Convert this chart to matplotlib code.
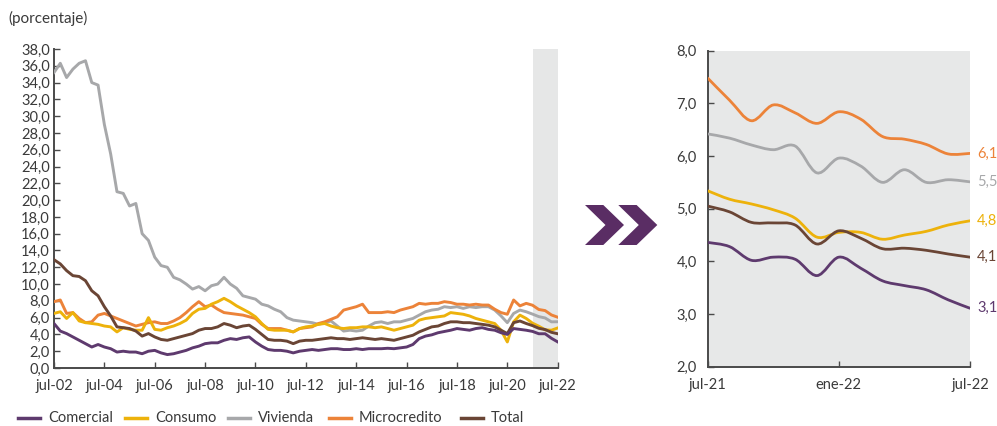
import matplotlib
matplotlib.use("Agg")
import matplotlib.pyplot as plt
from matplotlib.path import Path
from matplotlib.patches import PathPatch, Polygon
from matplotlib.lines import Line2D
import numpy as np

plt.rcParams['font.family'] = ['Lato', 'DejaVu Sans']

# ---------------- data ----------------
# Left chart: quarterly observations, jul-02 ... jul-22 (81 points)
series_names = ["Comercial", "Consumo", "Vivienda", "Microcredito", "Total"]
colors = {"Comercial": "#5E3A6E", "Consumo": "#EDB20B", "Vivienda": "#A7A8AA",
          "Microcredito": "#EC8339", "Total": "#6A4535"}

comercial = [5.3, 4.4, 4.1, 3.7, 3.3, 2.9, 2.5, 2.8, 2.5, 2.3, 1.9, 2.0, 1.9, 1.9, 1.7, 2.0,
             2.1, 1.8, 1.6, 1.7, 1.9, 2.1, 2.4, 2.6, 2.9, 3.0, 3.0, 3.3, 3.5, 3.4, 3.6, 3.7,
             3.1, 2.6, 2.2, 2.1, 2.1, 2.0, 1.8, 2.0, 2.1, 2.2, 2.1, 2.2, 2.3, 2.3, 2.2, 2.2,
             2.3, 2.2, 2.3, 2.3, 2.3, 2.35, 2.3, 2.4, 2.5, 2.8, 3.5, 3.8, 3.95, 4.2, 4.35, 4.5,
             4.7, 4.6, 4.5, 4.7, 4.8, 4.6, 4.5, 4.2, 4.0, 4.7, 4.6, 4.5, 4.36, 4.08, 4.08, 3.54, 3.11]
consumo = [6.5, 6.7, 5.9, 6.6, 5.6, 5.4, 5.3, 5.2, 5.0, 4.9, 4.3, 4.8, 4.6, 4.5, 4.5, 6.0,
           4.6, 4.5, 4.8, 5.0, 5.3, 5.7, 6.5, 7.0, 7.1, 7.6, 7.9, 8.3, 7.9, 7.4, 7.0, 6.6,
           6.1, 5.3, 4.6, 4.5, 4.5, 4.5, 4.3, 4.7, 4.9, 5.0, 5.2, 5.3, 5.0, 4.8, 4.7, 4.8,
           4.8, 4.9, 4.9, 4.8, 4.9, 4.7, 4.5, 4.7, 4.9, 5.1, 5.7, 5.9, 6.0, 6.1, 6.2, 6.6,
           6.5, 6.4, 6.2, 5.9, 5.7, 5.5, 5.3, 4.5, 3.1, 5.5, 6.3, 5.9, 5.34, 4.98, 4.55, 4.50, 4.77]
vivienda = [35.2, 36.3, 34.6, 35.6, 36.3, 36.6, 34.0, 33.7, 29.0, 25.5, 21.0, 20.8, 19.3, 19.6, 16.0, 15.2,
            13.2, 12.2, 12.0, 10.8, 10.5, 10.0, 9.4, 9.7, 9.2, 9.8, 10.0, 10.8, 10.0, 9.5, 8.6, 8.4,
            8.2, 7.6, 7.4, 7.0, 6.7, 6.0, 5.7, 5.6, 5.5, 5.4, 5.2, 5.4, 5.6, 5.0, 4.4, 4.5,
            4.4, 4.5, 5.0, 5.4, 5.5, 5.3, 5.5, 5.5, 5.7, 5.9, 6.3, 6.7, 6.9, 7.0, 7.3, 7.2,
            7.3, 7.1, 7.3, 7.2, 7.3, 7.3, 6.9, 6.2, 5.4, 6.5, 6.9, 6.7, 6.42, 6.12, 5.96, 5.50, 5.51]
microcredito = [7.9, 8.1, 6.5, 6.6, 5.9, 5.4, 5.5, 6.3, 6.5, 6.2, 5.9, 5.6, 5.3, 5.0, 5.2, 5.4,
                5.5, 5.3, 5.3, 5.6, 6.0, 6.6, 7.3, 7.9, 7.3, 7.5, 7.0, 6.6, 6.5, 6.4, 6.3, 6.1,
                5.9, 5.2, 4.7, 4.7, 4.7, 4.5, 4.3, 4.7, 4.8, 4.9, 5.3, 5.5, 5.8, 6.1, 6.9, 7.1,
                7.3, 7.6, 6.6, 6.6, 6.6, 6.7, 6.6, 6.9, 7.1, 7.3, 7.7, 7.6, 7.7, 7.7, 7.9, 7.8,
                7.6, 7.6, 7.5, 7.6, 7.5, 7.5, 7.0, 6.6, 6.4, 8.1, 7.4, 7.7, 7.48, 6.97, 6.84, 6.32, 6.05]
total = [12.9, 12.4, 11.6, 11.0, 10.9, 10.4, 9.2, 8.6, 7.3, 6.2, 4.9, 4.8, 4.7, 4.4, 3.8, 4.1,
         3.7, 3.4, 3.3, 3.5, 3.7, 3.9, 4.1, 4.5, 4.7, 4.7, 4.9, 5.3, 5.1, 4.8, 5.0, 5.1,
         4.6, 4.0, 3.4, 3.3, 3.3, 3.2, 2.9, 3.2, 3.3, 3.3, 3.4, 3.5, 3.6, 3.5, 3.5, 3.4,
         3.5, 3.6, 3.5, 3.4, 3.5, 3.4, 3.3, 3.5, 3.7, 3.9, 4.3, 4.6, 4.9, 5.0, 5.3, 5.5,
         5.5, 5.4, 5.4, 5.3, 5.2, 5.1, 4.9, 4.5, 4.1, 5.4, 5.6, 5.3, 5.05, 4.73, 4.58, 4.25, 4.08]

left_ticklabels = ["jul-02", "jul-04", "jul-06", "jul-08", "jul-10", "jul-12",
                   "jul-14", "jul-16", "jul-18", "jul-20", "jul-22"]

# Right chart: monthly jul-21 ... jul-22 (13 points)
r_comercial = [4.36, 4.28, 4.02, 4.08, 4.04, 3.73, 4.08, 3.87, 3.63, 3.54, 3.46, 3.27, 3.11]
r_consumo = [5.34, 5.18, 5.09, 4.98, 4.82, 4.46, 4.55, 4.55, 4.42, 4.50, 4.57, 4.69, 4.77]
r_vivienda = [6.42, 6.34, 6.21, 6.12, 6.19, 5.68, 5.96, 5.81, 5.50, 5.74, 5.50, 5.55, 5.51]
r_microcredito = [7.48, 7.06, 6.67, 6.97, 6.82, 6.62, 6.84, 6.70, 6.37, 6.32, 6.22, 6.04, 6.05]
r_total = [5.05, 4.94, 4.74, 4.73, 4.69, 4.33, 4.58, 4.44, 4.24, 4.25, 4.21, 4.14, 4.08]
right_ticklabels = ["jul-21", "ene-22", "jul-22"]
end_labels = {"Microcredito": "6,1", "Vivienda": "5,5", "Consumo": "4,8",
              "Total": "4,1", "Comercial": "3,1"}

left_data = {"Comercial": comercial, "Consumo": consumo, "Vivienda": vivienda,
             "Microcredito": microcredito, "Total": total}
right_data = {"Comercial": r_comercial, "Consumo": r_consumo, "Vivienda": r_vivienda,
              "Microcredito": r_microcredito, "Total": r_total}

# ---------------- figure ----------------
W, H = 997, 426
fig = plt.figure(figsize=(W / 100, H / 100), dpi=100)
txt = "#3A3A3A"
spine_c = "#4A4A4A"


def fmt(v):
    return f"{v:.1f}".replace(".", ",")


def style(ax):
    for s in ["top", "right"]:
        ax.spines[s].set_visible(False)
    for s in ["left", "bottom"]:
        ax.spines[s].set_color(spine_c)
        ax.spines[s].set_linewidth(1.4)
    ax.tick_params(direction="in", colors=spine_c, labelcolor=txt, labelsize=10.5,
                   length=4, width=1.0)


# left axes
axL = fig.add_axes([54 / W, 1 - 368 / H, (557.7 - 54) / W, (368 - 49) / H])
style(axL)
months_q = np.arange(len(comercial)) * 3
axL.axvspan(228, 240, color="#E6E7E7", zorder=0, lw=0)
order = ["Vivienda", "Microcredito", "Consumo", "Total", "Comercial"]
for name in order:
    axL.plot(months_q, left_data[name], color=colors[name], lw=2.1, zorder=3,
             solid_joinstyle="round")
axL.set_xlim(0, 240)
axL.set_ylim(0, 38)
axL.set_yticks(np.arange(0, 38.1, 2))
axL.set_yticklabels([fmt(v) for v in np.arange(0, 38.1, 2)])
axL.set_xticks(np.arange(0, 241, 24))
axL.set_xticklabels(left_ticklabels)
axL.tick_params(axis="x", pad=8)
axL.tick_params(axis="y", pad=3)

fig.text(8 / W, 1 - 18 / H, "(porcentaje)", fontsize=11, color=txt, va="center", ha="left")

# right axes
axR = fig.add_axes([707.7 / W, 1 - 366.7 / H, (970 - 707.7) / W, (366.7 - 50.7) / H])
style(axR)
axR.set_facecolor("#E7E8E8")
axR.set_xlim(0, 12)
axR.set_ylim(2, 8)
axR.set_yticks(np.arange(2, 8.1, 1))
axR.set_yticklabels([fmt(v) for v in np.arange(2, 8.1, 1)])
axR.set_xticks([0, 6, 12])
axR.set_xticklabels(right_ticklabels)
axR.tick_params(axis="x", pad=8)
axR.tick_params(axis="y", pad=8)


def smooth_path(xs, ys, t=1 / 6):
    verts = [(xs[0], ys[0])]
    codes = [Path.MOVETO]
    n = len(xs)
    for i in range(n - 1):
        x0, y0 = (xs[i - 1], ys[i - 1]) if i > 0 else (xs[i], ys[i])
        x1, y1 = xs[i], ys[i]
        x2, y2 = xs[i + 1], ys[i + 1]
        x3, y3 = (xs[i + 2], ys[i + 2]) if i + 2 < n else (x2, y2)
        c1 = (x1 + (x2 - x0) * t, y1 + (y2 - y0) * t)
        c2 = (x2 - (x3 - x1) * t, y2 - (y3 - y1) * t)
        verts += [c1, c2, (x2, y2)]
        codes += [Path.CURVE4] * 3
    return Path(verts, codes)


mr = np.arange(len(r_comercial))
for name in order:
    p = smooth_path(list(mr), right_data[name])
    axR.add_patch(PathPatch(p, facecolor="none", edgecolor=colors[name], lw=2.0,
                            zorder=3, capstyle="round"))
    axR.annotate(end_labels[name], xy=(mr[-1], right_data[name][-1]), xytext=(5, 0),
                 textcoords="offset points", va="center", ha="left", fontsize=10.5,
                 color=colors[name], annotation_clip=False)

# arrows (decorative chevrons)
arrow_c = "#5A2D64"
for dx in (0, 33.3):
    pts = [(585 + dx, 205), (603.3 + dx, 205), (624 + dx, 225), (603.3 + dx, 245),
           (585 + dx, 245), (605.5 + dx, 225)]
    pts_f = [(x / W, 1 - y / H) for x, y in pts]
    fig.patches.append(Polygon(pts_f, closed=True, transform=fig.transFigure,
                               facecolor=arrow_c, edgecolor="none"))

# legend (manual placement of entries)
legend_x = [18, 125, 228, 329, 461]
ly = 1 - 418 / H
for name, x0 in zip(series_names, legend_x):
    fig.add_artist(Line2D([x0 / W, (x0 + 22) / W], [ly, ly], transform=fig.transFigure,
                          color=colors[name], lw=2.5))
    fig.text((x0 + 30) / W, ly, name, fontsize=10.5, color=txt, va="center", ha="left")

fig.savefig("out.png", dpi=100)
